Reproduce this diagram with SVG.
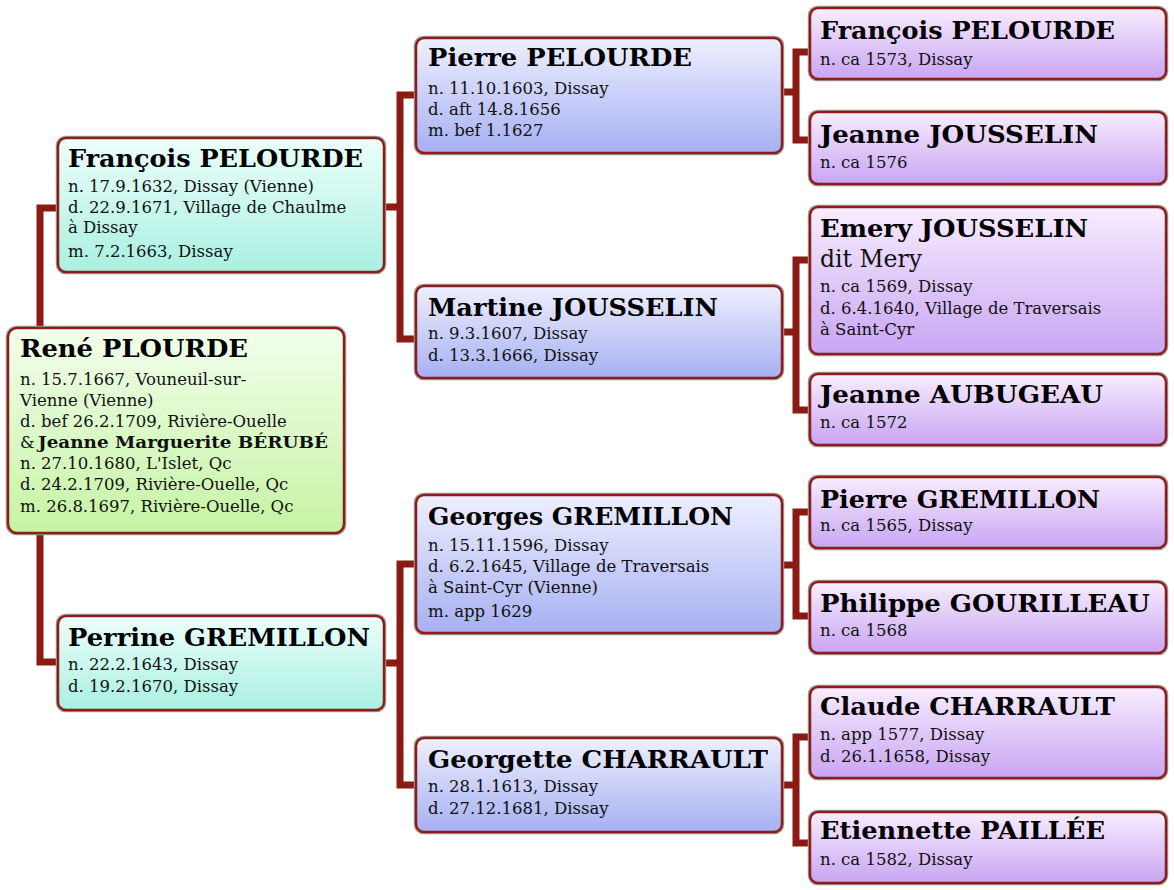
<svg xmlns="http://www.w3.org/2000/svg" width="1174" height="890" viewBox="0 0 1174 890">
<style>
.conn{fill:none;stroke:#8a1a12;stroke-width:7;stroke-linejoin:miter}
.shade{fill:none;stroke:#a0a0a0;stroke-width:1.5}
.box{stroke:#8c1d18;stroke-width:2.5}
.nm{font-family:"DejaVu Serif","Liberation Serif",serif;font-weight:bold;font-size:24.5px;fill:#000}
.dt{font-family:"DejaVu Serif","Liberation Serif",serif;font-size:16.5px;fill:#111}
.big{font-size:24px}
.b{font-weight:bold}
.g0{fill:url(#gGreen)}.g1{fill:url(#gCyan)}.g2{fill:url(#gBlue)}.g3{fill:url(#gPurple)}
</style>
<defs>
<linearGradient id="gGreen" x1="0" y1="0" x2="0" y2="1"><stop offset="0" stop-color="#f2ffec"/><stop offset="1" stop-color="#c6f3a4"/></linearGradient>
<linearGradient id="gCyan" x1="0" y1="0" x2="0" y2="1"><stop offset="0" stop-color="#edfffc"/><stop offset="1" stop-color="#a9f0e0"/></linearGradient>
<linearGradient id="gBlue" x1="0" y1="0" x2="0" y2="1"><stop offset="0" stop-color="#eef0ff"/><stop offset="1" stop-color="#a6b0f2"/></linearGradient>
<linearGradient id="gPurple" x1="0" y1="0" x2="0" y2="1"><stop offset="0" stop-color="#f8edff"/><stop offset="1" stop-color="#c8a5f3"/></linearGradient>
</defs>
<rect width="1174" height="890" fill="#ffffff"/>

<g id="connectors">
<path class="conn" d="M58,208 H40 V662 H58"/>
<path class="conn" d="M384,207 H400"/>
<path class="conn" d="M416,95 H400 V339 H416"/>
<path class="conn" d="M384,663 H400"/>
<path class="conn" d="M416,564 H400 V785 H416"/>
<path class="conn" d="M782,92 H796"/>
<path class="conn" d="M810,52 H796 V140 H810"/>
<path class="conn" d="M782,332 H796"/>
<path class="conn" d="M810,260 H796 V410 H810"/>
<path class="conn" d="M782,565 H796"/>
<path class="conn" d="M810,512 H796 V616 H810"/>
<path class="conn" d="M782,785 H796"/>
<path class="conn" d="M810,737 H796 V843 H810"/>
</g>

<g id="rene">
<rect class="shade" x="6.5" y="326.5" width="339" height="208" rx="10"/>
<rect class="box g0" x="8" y="328" width="336" height="205" rx="9"/>
<text class="nm" x="20" y="357" textLength="228" lengthAdjust="spacingAndGlyphs">René PLOURDE</text>
<text class="dt" x="20" y="385">n. 15.7.1667, Vouneuil-sur-</text>
<text class="dt" x="20" y="406">Vienne (Vienne)</text>
<text class="dt" x="20" y="427">d. bef 26.2.1709, Rivière-Ouelle</text>
<text class="dt" x="20" y="448">&amp;</text>
<text class="dt b" x="38" y="448" textLength="290" lengthAdjust="spacingAndGlyphs">Jeanne Marguerite BÉRUBÉ</text>
<text class="dt" x="20" y="469">n. 27.10.1680, L'Islet, Qc</text>
<text class="dt" x="20" y="490">d. 24.2.1709, Rivière-Ouelle, Qc</text>
<text class="dt" x="20" y="512">m. 26.8.1697, Rivière-Ouelle, Qc</text>
</g>

<g id="francois1">
<rect class="shade" x="56.5" y="136.5" width="329" height="137" rx="9"/>
<rect class="box g1" x="58" y="138" width="326" height="134" rx="8"/>
<text class="nm" x="68" y="167" textLength="295" lengthAdjust="spacingAndGlyphs">François PELOURDE</text>
<text class="dt" x="68" y="192">n. 17.9.1632, Dissay (Vienne)</text>
<text class="dt" x="68" y="213">d. 22.9.1671, Village de Chaulme</text>
<text class="dt" x="68" y="233">à Dissay</text>
<text class="dt" x="68" y="257">m. 7.2.1663, Dissay</text>
</g>

<g id="perrine">
<rect class="shade" x="56.5" y="614.5" width="329" height="97" rx="9"/>
<rect class="box g1" x="58" y="616" width="326" height="94" rx="8"/>
<text class="nm" x="68" y="646" textLength="302" lengthAdjust="spacingAndGlyphs">Perrine GREMILLON</text>
<text class="dt" x="68" y="670">n. 22.2.1643, Dissay</text>
<text class="dt" x="68" y="692">d. 19.2.1670, Dissay</text>
</g>

<g id="pierre">
<rect class="shade" x="414.5" y="36.5" width="369" height="118" rx="9"/>
<rect class="box g2" x="416" y="38" width="366" height="115" rx="8"/>
<text class="nm" x="428" y="66" textLength="264" lengthAdjust="spacingAndGlyphs">Pierre PELOURDE</text>
<text class="dt" x="428" y="94">n. 11.10.1603, Dissay</text>
<text class="dt" x="428" y="115">d. aft 14.8.1656</text>
<text class="dt" x="428" y="136">m. bef 1.1627</text>
</g>

<g id="martine">
<rect class="shade" x="414.5" y="284.5" width="369" height="95" rx="9"/>
<rect class="box g2" x="416" y="286" width="366" height="92" rx="8"/>
<text class="nm" x="428" y="316" textLength="290" lengthAdjust="spacingAndGlyphs">Martine JOUSSELIN</text>
<text class="dt" x="428" y="339">n. 9.3.1607, Dissay</text>
<text class="dt" x="428" y="361">d. 13.3.1666, Dissay</text>
</g>

<g id="georges">
<rect class="shade" x="414.5" y="493.5" width="369" height="141" rx="9"/>
<rect class="box g2" x="416" y="495" width="366" height="138" rx="8"/>
<text class="nm" x="428" y="525" textLength="305" lengthAdjust="spacingAndGlyphs">Georges GREMILLON</text>
<text class="dt" x="428" y="551">n. 15.11.1596, Dissay</text>
<text class="dt" x="428" y="572">d. 6.2.1645, Village de Traversais</text>
<text class="dt" x="428" y="593">à Saint-Cyr (Vienne)</text>
<text class="dt" x="428" y="617">m. app 1629</text>
</g>

<g id="georgette">
<rect class="shade" x="414.5" y="736.5" width="369" height="97" rx="9"/>
<rect class="box g2" x="416" y="738" width="366" height="94" rx="8"/>
<text class="nm" x="428" y="768" textLength="340" lengthAdjust="spacingAndGlyphs">Georgette CHARRAULT</text>
<text class="dt" x="428" y="792">n. 28.1.1613, Dissay</text>
<text class="dt" x="428" y="814">d. 27.12.1681, Dissay</text>
</g>

<g id="francois3">
<rect class="shade" x="808.5" y="6.5" width="359" height="74" rx="9"/>
<rect class="box g3" x="810" y="8" width="356" height="71" rx="8"/>
<text class="nm" x="820" y="39" textLength="295" lengthAdjust="spacingAndGlyphs">François PELOURDE</text>
<text class="dt" x="820" y="65">n. ca 1573, Dissay</text>
</g>

<g id="jeanne-jousselin">
<rect class="shade" x="808.5" y="110.5" width="359" height="75" rx="9"/>
<rect class="box g3" x="810" y="112" width="356" height="72" rx="8"/>
<text class="nm" x="820" y="143" textLength="278" lengthAdjust="spacingAndGlyphs">Jeanne JOUSSELIN</text>
<text class="dt" x="820" y="168">n. ca 1576</text>
</g>

<g id="emery">
<rect class="shade" x="808.5" y="205.5" width="359" height="150" rx="9"/>
<rect class="box g3" x="810" y="207" width="356" height="147" rx="8"/>
<text class="nm" x="820" y="237" textLength="268" lengthAdjust="spacingAndGlyphs">Emery JOUSSELIN</text>
<text class="dt big" x="820" y="267" textLength="102" lengthAdjust="spacingAndGlyphs">dit Mery</text>
<text class="dt" x="820" y="292">n. ca 1569, Dissay</text>
<text class="dt" x="820" y="314">d. 6.4.1640, Village de Traversais</text>
<text class="dt" x="820" y="335">à Saint-Cyr</text>
</g>

<g id="jeanne-aubugeau">
<rect class="shade" x="808.5" y="372.5" width="359" height="74" rx="9"/>
<rect class="box g3" x="810" y="374" width="356" height="71" rx="8"/>
<text class="nm" x="820" y="403" textLength="283" lengthAdjust="spacingAndGlyphs">Jeanne AUBUGEAU</text>
<text class="dt" x="820" y="428">n. ca 1572</text>
</g>

<g id="pierre-gremillon">
<rect class="shade" x="808.5" y="475.5" width="359" height="74" rx="9"/>
<rect class="box g3" x="810" y="477" width="356" height="71" rx="8"/>
<text class="nm" x="820" y="508" textLength="280" lengthAdjust="spacingAndGlyphs">Pierre GREMILLON</text>
<text class="dt" x="820" y="531">n. ca 1565, Dissay</text>
</g>

<g id="philippe">
<rect class="shade" x="808.5" y="580.5" width="359" height="74" rx="9"/>
<rect class="box g3" x="810" y="582" width="356" height="71" rx="8"/>
<text class="nm" x="820" y="612" textLength="330" lengthAdjust="spacingAndGlyphs">Philippe GOURILLEAU</text>
<text class="dt" x="820" y="636">n. ca 1568</text>
</g>

<g id="claude">
<rect class="shade" x="808.5" y="685.5" width="359" height="94" rx="9"/>
<rect class="box g3" x="810" y="687" width="356" height="91" rx="8"/>
<text class="nm" x="820" y="715" textLength="295" lengthAdjust="spacingAndGlyphs">Claude CHARRAULT</text>
<text class="dt" x="820" y="740">n. app 1577, Dissay</text>
<text class="dt" x="820" y="762">d. 26.1.1658, Dissay</text>
</g>

<g id="etiennette">
<rect class="shade" x="808.5" y="810.5" width="359" height="74" rx="9"/>
<rect class="box g3" x="810" y="812" width="356" height="71" rx="8"/>
<text class="nm" x="820" y="839" textLength="285" lengthAdjust="spacingAndGlyphs">Etiennette PAILLÉE</text>
<text class="dt" x="820" y="865">n. ca 1582, Dissay</text>
</g>
</svg>
